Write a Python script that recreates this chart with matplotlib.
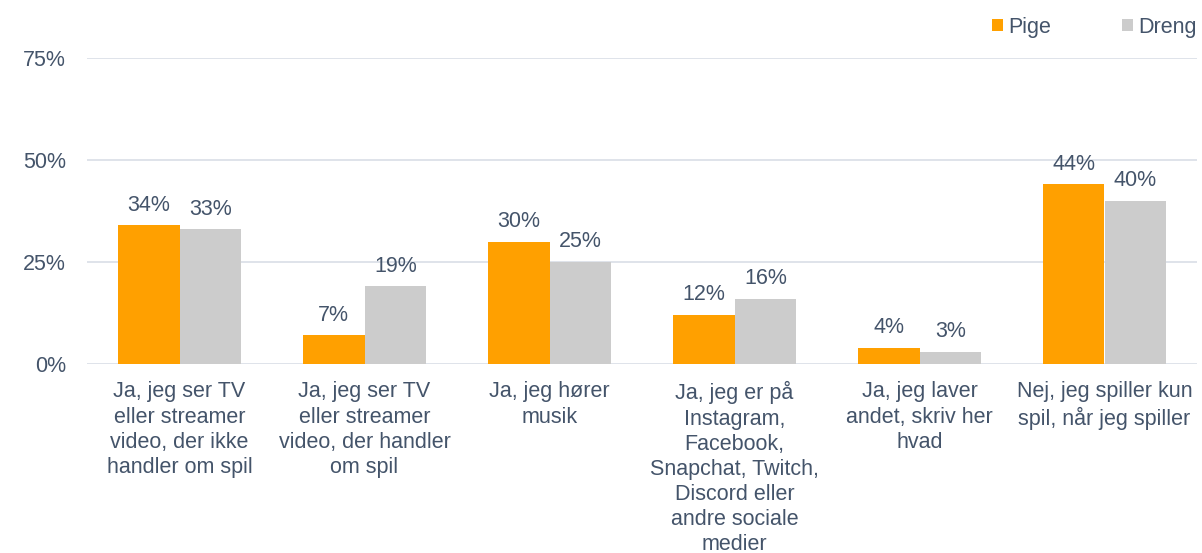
import matplotlib
matplotlib.use("Agg")
import matplotlib.pyplot as plt
import numpy as np
from matplotlib.patches import Patch

plt.rcParams['font.family'] = ['Liberation Sans', 'DejaVu Sans']

categories = [
    "Ja, jeg ser TV\neller streamer\nvideo, der ikke\nhandler om spil",
    "Ja, jeg ser TV\neller streamer\nvideo, der handler\nom spil",
    "Ja, jeg hører\nmusik",
    "Ja, jeg er på\nInstagram,\nFacebook,\nSnapchat, Twitch,\nDiscord eller\nandre sociale\nmedier",
    "Ja, jeg laver\nandet, skriv her\nhvad",
    "Nej, jeg spiller kun\nspil, når jeg spiller",
]
pige = [34, 7, 30, 12, 4, 44]
dreng = [33, 19, 25, 16, 3, 40]
yticks = [0, 25, 50, 75]
series_names = ["Pige", "Dreng"]

TEXT = "#44546A"
ORANGE = "#FFA000"
GRAY = "#CCCCCC"
GRID = "#DCE0E8"
FS = 15.5

fig = plt.figure(figsize=(12.02, 5.53), dpi=100)
ax = fig.add_axes([87/1202, 1-364/553, 1110/1202, 306/553])

x = np.arange(len(categories))
w = 0.335
b1 = ax.bar(x - w/2, pige, w, color=ORANGE, zorder=3)
b2 = ax.bar(x + w/2, dreng, w, color=GRAY, zorder=3)

for bars, vals in ((b1, pige), (b2, dreng)):
    for r, v in zip(bars, vals):
        ax.annotate(f"{v}%", (r.get_x() + r.get_width()/2, v),
                    xytext=(0, 7), textcoords="offset points",
                    ha="center", va="bottom", fontsize=FS, color=TEXT)

ax.set_xlim(-0.5, len(categories) - 0.5)
ax.set_ylim(0, 75)
ax.set_yticks(yticks)
ax.set_yticklabels([f"{t}%" for t in yticks])
ax.yaxis.grid(True, color=GRID, linewidth=1.3, zorder=0)
ax.set_axisbelow(True)
for s in ax.spines.values():
    s.set_visible(False)
ax.tick_params(axis="y", length=0, pad=15, labelsize=FS, labelcolor=TEXT)
ax.set_xticks(x)
ax.set_xticklabels(categories, fontsize=FS, color=TEXT, linespacing=1.26, va="top")
ax.tick_params(axis="x", length=0, pad=12.5)

handles = [Patch(facecolor=ORANGE), Patch(facecolor=GRAY)]
fig.legend(handles, series_names, loc="upper right", bbox_to_anchor=(1.008, 0.997),
           ncol=2, frameon=False, fontsize=FS, labelcolor=TEXT,
           handlelength=0.5, handleheight=0.5, handletextpad=0.25,
           columnspacing=3.3, borderaxespad=0.3)

fig.savefig("out.png", dpi=100)
